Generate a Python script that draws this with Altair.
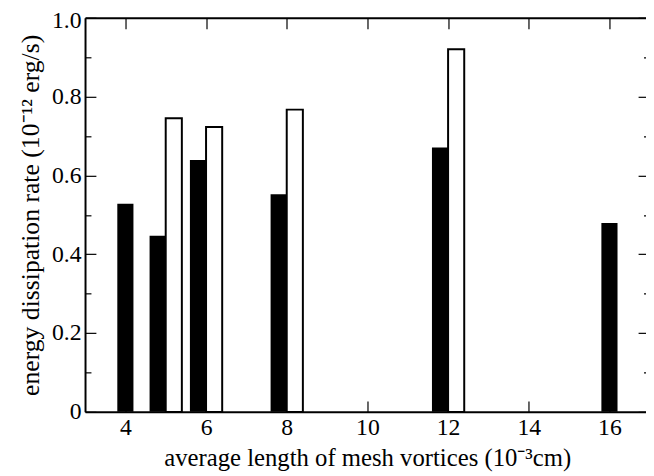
import altair as alt
import pandas as pd

# ---- data ----
black_x = [4.0, 4.8, 5.8, 7.8, 11.8, 16.0]
black_y = [0.528, 0.447, 0.639, 0.552, 0.671, 0.479]
white_x = [5.2, 6.2, 8.2, 12.2]
white_y = [0.745, 0.723, 0.767, 0.920]
x_ticks = [4, 6, 8, 10, 12, 14, 16]
y_major = [0.0, 0.2, 0.4, 0.6, 0.8, 1.0]
y_minor = [0.1, 0.3, 0.5, 0.7, 0.9]
x_title = "average length of mesh vortices (10⁻³cm)"
y_title = "energy dissipation rate (10⁻¹² erg/s)"

BAR_HALF = 0.2
FONT = "Liberation Serif, Times New Roman, Times, serif"

black = pd.DataFrame({"x": black_x, "y": black_y})
white = pd.DataFrame({"x": white_x, "y": white_y})

xscale = alt.Scale(domain=[3, 16.906], nice=False, zero=False)
yscale = alt.Scale(domain=[0, 1], nice=False, zero=False)


def base(df):
    return alt.Chart(df).transform_calculate(
        x0=f"datum.x - {BAR_HALF}", x1=f"datum.x + {BAR_HALF}", b="0"
    )


def tick_axis(orient, values, size):
    return alt.Axis(
        orient=orient, values=values, offset=-size, tickSize=size, ticks=True,
        tickColor="black", tickWidth=1.2, domain=False, labels=False,
        title=None, grid=False,
    )


x_main = alt.Axis(
    orient="bottom", values=x_ticks, ticks=False, tickSize=0, domain=True,
    domainColor="black", domainWidth=2, grid=False,
    labelFont=FONT, labelFontSize=24, labelColor="black",
    labelBaseline="alphabetic", labelPadding=23, labelFlush=False,
    labelOverlap=False, format="d",
    title=x_title, titleFont=FONT, titleFontSize=25, titleFontWeight="normal",
    titleColor="black", titleX=285.7, titleY=54, titleBaseline="alphabetic",
    titleAlign="center",
)
y_main = alt.Axis(
    orient="left", values=y_major, ticks=False, tickSize=0, domain=True,
    domainColor="black", domainWidth=2, grid=False,
    labelFont=FONT, labelFontSize=24, labelColor="black",
    labelBaseline="middle", labelAlign="right", labelPadding=4,
    labelFlush=False, labelOverlap=False,
    labelOffset={"condition": {"test": "datum.value == 1", "value": 2.5}, "value": 0},
    labelExpr="datum.value == 0 ? '0' : format(datum.value, '.1f')",
    title=y_title, titleFont=FONT, titleFontSize=26, titleFontWeight="normal",
    titleColor="black", titleX=-47, titleY=199.5, titleBaseline="alphabetic",
    titleAlign="center", titleAngle=270,
)
x_top_domain = alt.Axis(
    orient="top", ticks=False, tickSize=0, domain=True, domainColor="black",
    domainWidth=2, labels=False, title=None, grid=False,
)

black_bars = base(black).mark_rect(color="black").encode(
    x=alt.X("x0:Q", scale=xscale, axis=x_main),
    x2="x1:Q",
    y=alt.Y("y:Q", scale=yscale, axis=y_main),
    y2="b:Q",
)

white_bars = base(white).mark_rect(
    fill="white", stroke="black", strokeWidth=2
).encode(
    x=alt.X("x0:Q", scale=xscale, axis=x_top_domain),
    x2="x1:Q",
    y=alt.Y("y:Q", scale=yscale, axis=tick_axis("left", y_major, 11)),
    y2="b:Q",
)

ghost3 = base(black).mark_rect(opacity=0).encode(
    x=alt.X("x0:Q", scale=xscale, axis=tick_axis("bottom", x_ticks, 11)),
    x2="x1:Q",
    y=alt.Y("y:Q", scale=yscale, axis=tick_axis("left", y_minor, 6)),
    y2="b:Q",
)

ghost4 = base(black).mark_rect(opacity=0).encode(
    x=alt.X("x0:Q", scale=xscale, axis=tick_axis("top", x_ticks, 11)),
    x2="x1:Q",
    y=alt.Y("y:Q", scale=yscale, axis=tick_axis("right", y_major, 8)),
    y2="b:Q",
)

ghost5 = base(black).mark_rect(opacity=0).encode(
    x=alt.X("x0:Q", scale=xscale, axis=None),
    x2="x1:Q",
    y=alt.Y("y:Q", scale=yscale, axis=tick_axis("right", y_minor, 2.5)),
    y2="b:Q",
)

chart = (
    alt.layer(black_bars, white_bars, ghost3, ghost4, ghost5)
    .resolve_axis(x="independent", y="independent")
    .properties(
        width=568,
        height=399,
        autosize=alt.AutoSizeParams(type="none"),
        padding={"left": 78, "top": 7, "right": 0, "bottom": 61},
        background="white",
    )
    .configure_view(stroke=None)
)

chart.save("out.html", embed_options={"renderer": "svg", "actions": False})
